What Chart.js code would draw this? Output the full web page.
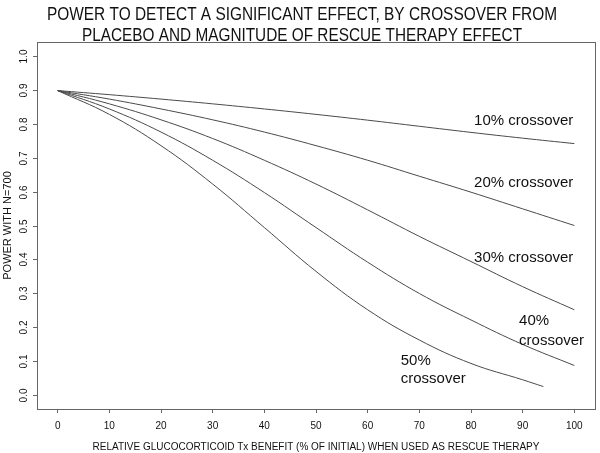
<!DOCTYPE html>
<html lang="en">
<head>
  <meta charset="UTF-8" />
  <title>Power to detect a significant effect</title>
  <script src="https://cdn.jsdelivr.net/npm/chart.js"></script>
  <style>
    body { margin: 0; background: #fff; }
  </style>
</head>
<body>
  <canvas id="powerChart" width="600" height="453"></canvas>

  <script>
    // x = relative glucocorticoid benefit (%), y = power with N=700
    const benefit   = [0, 10, 20, 30, 40, 50, 60, 70, 80, 90, 100];
    const benefit50 = [0, 10, 20, 30, 40, 50, 60, 70, 80, 90, 94];

    const power10 = [0.897, 0.885, 0.872, 0.858, 0.843, 0.827, 0.810, 0.792, 0.774, 0.757, 0.741];
    const power20 = [0.897, 0.872, 0.843, 0.811, 0.775, 0.735, 0.692, 0.645, 0.598, 0.549, 0.500];
    const power30 = [0.897, 0.858, 0.811, 0.756, 0.692, 0.622, 0.546, 0.468, 0.394, 0.320, 0.252];
    const power40 = [0.897, 0.843, 0.775, 0.692, 0.597, 0.494, 0.392, 0.300, 0.222, 0.150, 0.088];
    const power50 = [0.897, 0.827, 0.735, 0.622, 0.494, 0.365, 0.252, 0.163, 0.094, 0.046, 0.026];

    const xTicks = [0, 10, 20, 30, 40, 50, 60, 70, 80, 90, 100];
    const yTicks = [0, 0.1, 0.2, 0.3, 0.4, 0.5, 0.6, 0.7, 0.8, 0.9, 1.0];

    const titleLines = [
      'POWER TO DETECT A SIGNIFICANT EFFECT, BY CROSSOVER FROM',
      'PLACEBO AND MAGNITUDE OF RESCUE THERAPY EFFECT'
    ];
    const yTitle = 'POWER WITH N=700';
    const xTitle = 'RELATIVE GLUCOCORTICOID Tx BENEFIT (% OF INITIAL) WHEN USED AS RESCUE THERAPY';

    // curve labels, placed in data units
    const curveNotes = [
      { text: '10% crossover', x: 80.6, y: 0.809 },
      { text: '20% crossover', x: 80.6, y: 0.626 },
      { text: '30% crossover', x: 80.6, y: 0.405 },
      { text: '40%',           x: 89.3, y: 0.220 },
      { text: 'crossover',     x: 89.3, y: 0.161 },
      { text: '50%',           x: 66.4, y: 0.102 },
      { text: 'crossover',     x: 66.4, y: 0.049 }
    ];

    const toPoints = (xs, ys) => xs.map((x, i) => ({ x: x, y: ys[i] }));

    const lineStyle = {
      borderColor: '#4a4a4a',
      borderWidth: 1,
      pointRadius: 0,
      fill: false,
      tension: 0.4
    };

    const framePlugin = {
      id: 'frame',
      afterDraw(chart) {
        const ctx = chart.ctx;
        const area = chart.chartArea;
        const yScale = chart.scales.y;
        const xScale = chart.scales.x;
        ctx.save();

        // plot box
        ctx.strokeStyle = '#666';
        ctx.lineWidth = 1;
        ctx.strokeRect(Math.round(area.left) + 0.5, Math.round(area.top) + 0.5,
          Math.round(area.right - area.left), Math.round(area.bottom - area.top));

        // y ticks + rotated labels
        ctx.fillStyle = '#111';
        ctx.font = '10px "Liberation Sans", Arial, sans-serif';
        ctx.textAlign = 'center';
        ctx.textBaseline = 'middle';
        yTicks.forEach(v => {
          const py = Math.round(yScale.getPixelForValue(v)) + 0.5;
          ctx.beginPath();
          ctx.moveTo(area.left - 4, py);
          ctx.lineTo(area.left, py);
          ctx.stroke();
          ctx.save();
          ctx.translate(24, py);
          ctx.rotate(-Math.PI / 2);
          ctx.fillText(v.toFixed(1), 0, 0);
          ctx.restore();
        });

        // y title
        ctx.save();
        ctx.font = '11px "Liberation Sans", Arial, sans-serif';
        ctx.translate(8, (area.top + area.bottom) / 2);
        ctx.rotate(-Math.PI / 2);
        ctx.fillText(yTitle, 0, 0);
        ctx.restore();

        // main title (narrow face)
        ctx.font = '18px "Liberation Sans Narrow", "Liberation Sans", Arial, sans-serif';
        ctx.fillText(titleLines[0], 302, 15, 510);
        ctx.fillText(titleLines[1], 302, 36, 440);

        // curve labels
        ctx.font = '15px "Liberation Sans", Arial, sans-serif';
        ctx.textAlign = 'left';
        curveNotes.forEach(n => {
          ctx.fillText(n.text, xScale.getPixelForValue(n.x), yScale.getPixelForValue(n.y));
        });

        ctx.restore();
      }
    };

    const ctx = document.getElementById('powerChart').getContext('2d');
    const chart = new Chart(ctx, {
      type: 'line',
      data: {
        datasets: [
          { label: '10% crossover', data: toPoints(benefit, power10), ...lineStyle },
          { label: '20% crossover', data: toPoints(benefit, power20), ...lineStyle },
          { label: '30% crossover', data: toPoints(benefit, power30), ...lineStyle },
          { label: '40% crossover', data: toPoints(benefit, power40), ...lineStyle },
          { label: '50% crossover', data: toPoints(benefit50, power50), ...lineStyle }
        ]
      },
      options: {
        responsive: false,
        animation: false,
        layout: { padding: { left: 37, right: 5, top: 42, bottom: 0 } },
        plugins: {
          legend: { display: false },
          tooltip: { enabled: false },
          title: { display: false }
        },
        scales: {
          x: {
            type: 'linear',
            min: -4,
            max: 104,
            afterBuildTicks: scale => { scale.ticks = xTicks.map(v => ({ value: v })); },
            grid: { drawOnChartArea: false, drawTicks: true, tickLength: 4, tickColor: '#666' },
            border: { display: false },
            ticks: {
              color: '#111',
              padding: 7,
              maxRotation: 0,
              font: { family: '"Liberation Sans", Arial, sans-serif', size: 10 }
            },
            title: {
              display: true,
              text: xTitle,
              color: '#111',
              padding: { top: 2, bottom: 0 },
              font: { family: '"Liberation Sans", Arial, sans-serif', size: 10 }
            }
          },
          y: {
            type: 'linear',
            min: -0.04,
            max: 1.04,
            display: false
          }
        }
      },
      plugins: [framePlugin]
    });
  </script>
</body>
</html>
